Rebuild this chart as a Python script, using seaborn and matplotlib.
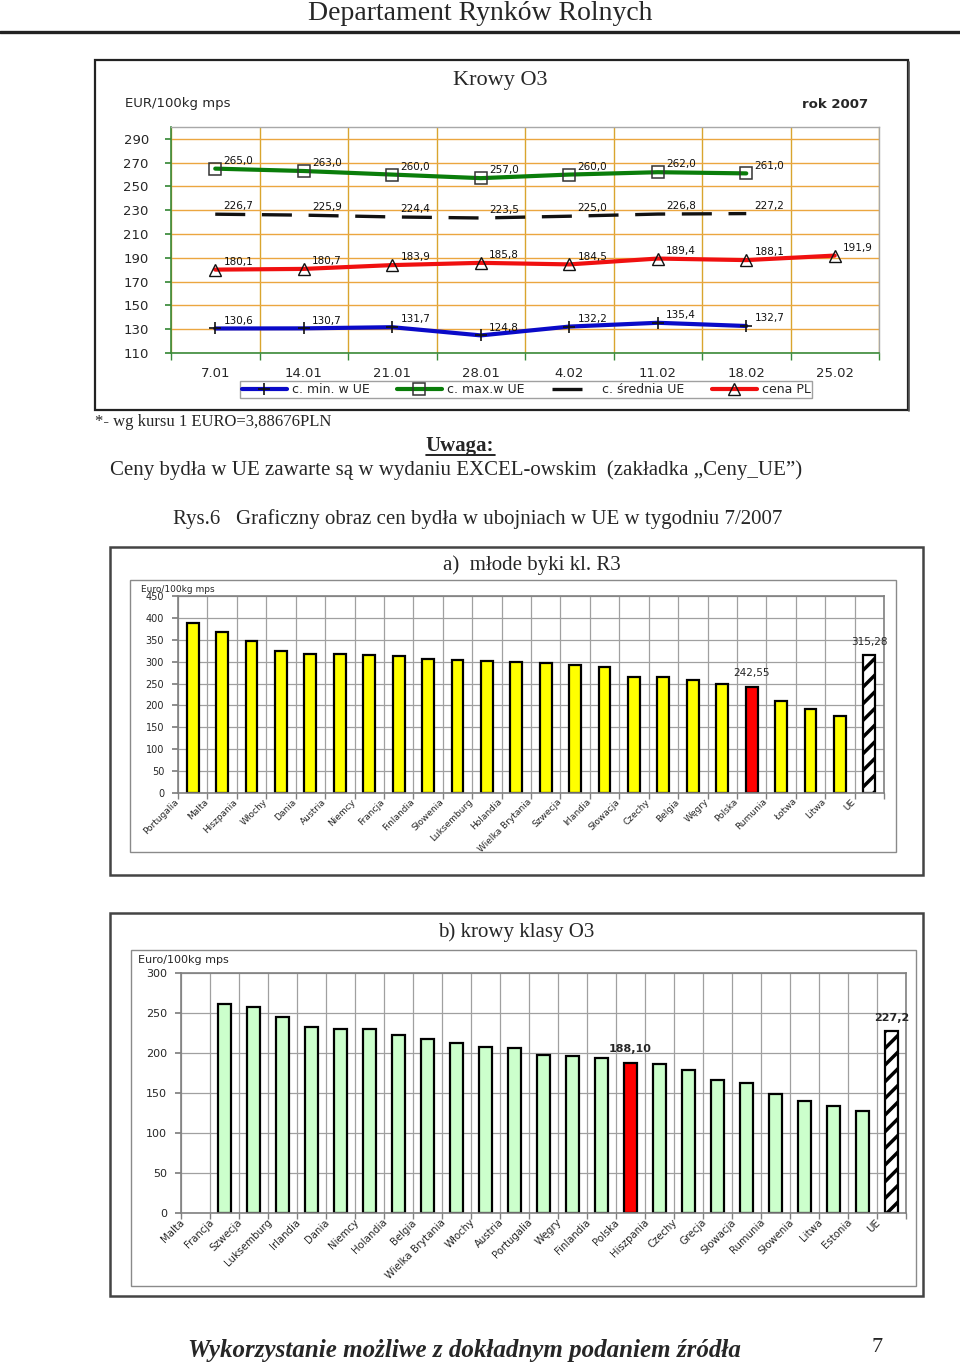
import numpy as np
import pandas as pd
import matplotlib
matplotlib.use("Agg")
import matplotlib.pyplot as plt
import matplotlib.transforms as mtransforms
from matplotlib.patches import Rectangle
from matplotlib.lines import Line2D
import seaborn as sns

# ------------------------------------------------------------------ data
dates = ["7.01", "14.01", "21.01", "28.01", "4.02", "11.02", "18.02", "25.02"]
c_min = [130.6, 130.7, 131.7, 124.8, 132.2, 135.4, 132.7, np.nan]
c_max = [265.0, 263.0, 260.0, 257.0, 260.0, 262.0, 261.0, np.nan]
c_avg = [226.7, 225.9, 224.4, 223.5, 225.0, 226.8, 227.2, np.nan]
c_pl = [180.1, 180.7, 183.9, 185.8, 184.5, 189.4, 188.1, 191.9]
line_yticks = [110, 130, 150, 170, 190, 210, 230, 250, 270, 290]

a_countries = ["Portugalia", "Malta", "Hiszpania", "Włochy", "Dania", "Austria",
               "Niemcy", "Francja", "Finlandia", "Słowenia", "Luksemburg",
               "Holandia", "Wielka Brytania", "Szwecja", "Irlandia", "Słowacja",
               "Czechy", "Belgia", "Węgry", "Polska", "Rumunia", "Łotwa",
               "Litwa", "UE"]
a_values = [389, 368, 347, 325, 318, 318, 315, 312, 307, 303, 302, 300,
            296, 292, 287, 265, 264, 259, 249, 242.55, 210, 191, 176, 315.28]
a_yticks = [0, 50, 100, 150, 200, 250, 300, 350, 400, 450]

b_countries = ["Malta", "Francja", "Szwecja", "Luksemburg", "Irlandia", "Dania",
               "Niemcy", "Holandia", "Belgia", "Wielka Brytania", "Włochy",
               "Austria", "Portugalia", "Węgry", "Finlandia", "Polska",
               "Hiszpania", "Czechy", "Grecja", "Słowacja", "Rumunia",
               "Słowenia", "Litwa", "Estonia", "UE"]
b_values = [np.nan, 261, 257.6, 245.6, 232.3, 229.8, 229.8, 222.3, 218, 212, 207,
            206.5, 197.4, 195.7, 194, 188.10, 186.6, 178.7, 166.6, 162, 148.3,
            140, 133.4, 128, 227.2]
b_yticks = [0, 50, 100, 150, 200, 250, 300]

# ------------------------------------------------------------------ setup
sns.set_theme(style="white")
plt.rcParams['font.family'] = ['DejaVu Sans']
plt.rcParams['hatch.linewidth'] = 2.5
plt.rcParams['hatch.color'] = 'black'
SERIF = 'Liberation Serif'

W, H = 960, 1365
fig = plt.figure(figsize=(W / 100, H / 100), dpi=100)
fig.patch.set_facecolor('white')


def add_ax(l, t, r, b):
    return fig.add_axes([l / W, 1 - b / H, (r - l) / W, (b - t) / H])


def ftext(x, y, s, **kw):
    return fig.text(x / W, 1 - y / H, s, **kw)


def frect(l, t, r, b, **kw):
    fig.add_artist(Rectangle((l / W, 1 - b / H), (r - l) / W, (b - t) / H,
                             transform=fig.transFigure, fill=False, **kw))


def fline(x0, y0, x1, y1, **kw):
    fig.add_artist(Line2D([x0 / W, x1 / W], [1 - y0 / H, 1 - y1 / H],
                          transform=fig.transFigure, **kw))


# ------------------------------------------------------------------ page header
ftext(480, 14, "Departament Rynków Rolnych", family=SERIF, fontsize=20,
      ha='center', va='center')
fline(0, 32, 960, 32, color='#222222', lw=2.4)

# ------------------------------------------------------------------ line chart
frect(95, 60, 908, 410, ec='#222222', lw=1.6)
fline(909, 62, 909, 411, color='#555555', lw=1.2)
ftext(500, 80, "Krowy O3", family=SERIF, fontsize=16, ha='center', va='center')
ftext(125, 104, "EUR/100kg mps", fontsize=9.5, ha='left', va='center')
ftext(868, 104, "rok 2007", fontsize=9.5, fontweight='bold', ha='right', va='center')

ax = add_ax(171, 127, 879, 353)
pos = np.arange(len(dates))
series = [
    ("c. min. w UE", c_min, dict(color='#0A0AC8', lw=3, marker='+', ms=9,
                                 mec='#111111', mew=1.2)),
    ("c. max.w UE", c_max, dict(color='#0A7D0A', lw=3, marker='s', ms=8,
                                mfc='none', mec='#333333', mew=1.1)),
    ("c. średnia UE", c_avg, dict(color='#111111', lw=2.4, dashes=(9, 5))),
    ("cena PL", c_pl, dict(color='#F01010', lw=3, marker='^', ms=9,
                           mfc='none', mec='#111111', mew=1.0)),
]
handles = []
for name, vals, style in series:
    df = pd.DataFrame({"pos": pos, "val": vals}).dropna()
    st = dict(style)
    dashes = st.pop('dashes', None)
    sns.lineplot(data=df, x="pos", y="val", ax=ax, estimator=None, sort=False,
                 **st)
    if dashes is not None:
        ax.lines[-1].set_dashes(dashes)
    for x, v in zip(df["pos"], df["val"]):
        ax.annotate(f"{v:.1f}".replace('.', ','), (x, v), xytext=(6, 2),
                    textcoords='offset points', ha='left', va='bottom',
                    fontsize=7.5, color='#111111')
    h = Line2D([], [], **{k: v for k, v in style.items() if k != 'dashes'})
    if dashes is not None:
        h.set_dashes(dashes)
    handles.append(h)

ax.set_xlim(-0.5, len(dates) - 0.5)
ax.set_ylim(110, 300)
ax.set_xticks(pos)
ax.set_xticklabels(dates)
ax.set_xticks(np.arange(-0.5, len(dates)), minor=True)
ax.set_yticks(line_yticks)
ax.set_xlabel("")
ax.set_ylabel("")
ax.grid(False)
ax.xaxis.grid(True, which='minor', color='#D9A52E', lw=1)
ax.yaxis.grid(True, which='major', color='#EBA640', lw=1)
ax.set_axisbelow(True)
ax.tick_params(axis='x', which='major', length=0, pad=10, labelsize=9.5)
ax.tick_params(axis='x', which='minor', length=5, color='#3A8A3A', direction='out',
               bottom=True)
ax.tick_params(axis='y', length=4, color='#3A8A3A', direction='out', left=True,
               pad=12, labelsize=9.5)
for s in ['left', 'bottom']:
    ax.spines[s].set_color('#3A8A3A')
    ax.spines[s].set_linewidth(1.2)
for s in ['top', 'right']:
    ax.spines[s].set_color('#A8A8A8')
    ax.spines[s].set_linewidth(1)

leg = fig.legend(handles, [s[0] for s in series], loc='center',
                 bbox_to_anchor=(526 / W, 1 - 389.5 / H), ncol=4, fontsize=9,
                 frameon=True, fancybox=False, edgecolor='#888888',
                 handlelength=3.6, columnspacing=2.2, borderpad=0.15,
                 handletextpad=0.4, borderaxespad=0)
leg.get_frame().set_linewidth(1)

# ------------------------------------------------------------------ notes
ftext(95, 422, "*- wg kursu 1 EURO=3,88676PLN", family=SERIF, fontsize=12,
      ha='left', va='center')
ftext(460, 446, "Uwaga:", family=SERIF, fontsize=15, fontweight='bold',
      ha='center', va='center')
fline(426, 455, 495, 455, color='black', lw=1.2)
ftext(110, 470, "Ceny bydła w UE zawarte są w wydaniu EXCEL-owskim  (zakładka „Ceny_UE”)",
      family=SERIF, fontsize=15, ha='left', va='center')
ftext(173, 519, "Rys.6   Graficzny obraz cen bydła w ubojniach w UE w tygodniu 7/2007",
      family=SERIF, fontsize=15, ha='left', va='center')


# ------------------------------------------------------------------ bar charts
def bar_chart(box, countries, values, base_color, yticks, ymax, xlab_size,
              ylab_size, xoff_px, width):
    l, t, r, b = box
    axb = add_ax(l, t, r, b)
    palette = {}
    for c in countries:
        palette[c] = base_color
    palette["Polska"] = '#FF0000'
    palette["UE"] = 'white'
    df = pd.DataFrame({"kraj": countries, "wartosc": values})
    sns.barplot(data=df, x="kraj", y="wartosc", hue="kraj", palette=palette,
                legend=False, width=width, edgecolor='black', linewidth=1.6,
                saturation=1, ax=axb)
    n = len(countries)
    for p in axb.patches:
        cx = p.get_x() + p.get_width() / 2
        if abs(cx - (n - 1)) < 0.01:
            p.set_hatch('//')
    axb.set_xlim(-0.5, n - 0.5)
    axb.set_ylim(0, ymax)
    axb.set_yticks(yticks)
    axb.set_xticks(np.arange(n))
    axb.set_xticklabels(countries, rotation=45, ha='right',
                        rotation_mode='default')
    axb.set_xticks(np.arange(-0.5, n), minor=True)
    axb.set_xlabel("")
    axb.set_ylabel("")
    axb.grid(False)
    axb.xaxis.grid(True, which='minor', color='#A0A0A0', lw=0.9)
    axb.yaxis.grid(True, which='major', color='#A0A0A0', lw=0.9)
    axb.set_axisbelow(True)
    axb.tick_params(axis='x', which='major', length=0, pad=3, labelsize=xlab_size)
    axb.tick_params(axis='x', which='minor', length=4, color='#808080',
                    direction='out', bottom=True)
    axb.tick_params(axis='y', length=4, color='#808080', direction='out',
                    left=True, pad=6, labelsize=ylab_size)
    for s in axb.spines.values():
        s.set_color('#808080')
        s.set_linewidth(1.2)
    off = mtransforms.ScaledTranslation(-xoff_px / 100, 0, fig.dpi_scale_trans)
    for lbl in axb.get_xticklabels():
        lbl.set_transform(lbl.get_transform() + off)
    return axb


# chart a
frect(110, 547, 923, 875, ec='#444444', lw=1.8)
frect(130, 580, 896, 852, ec='#8A8A8A', lw=1)
ftext(532, 565, "a)  młode byki kl. R3", family=SERIF, fontsize=15,
      ha='center', va='center')
axa = bar_chart((178, 596, 884, 793), a_countries, a_values, '#FFFF00',
                a_yticks, 450, 6.5, 7, 12, 0.4)
ftext(141, 589, "Euro/100kg mps", fontsize=6.5, ha='left', va='center')
ia = a_countries.index("Polska")
axa.annotate("242,55", (ia, a_values[ia]), xytext=(0, 6),
             textcoords='offset points', ha='center', va='bottom', fontsize=7.5)
axa.annotate("315,28", (len(a_countries) - 1, a_values[-1]), xytext=(0, 6),
             textcoords='offset points', ha='center', va='bottom', fontsize=7.5,
             annotation_clip=False)

# chart b
frect(110, 913, 923, 1296, ec='#444444', lw=1.8)
frect(131, 950, 916, 1286, ec='#8A8A8A', lw=1)
ftext(516, 932, "b) krowy klasy O3", family=SERIF, fontsize=15,
      ha='center', va='center')
axb = bar_chart((181, 973, 906, 1213), b_countries, b_values, '#CCFFCC',
                b_yticks, 300, 7.3, 8, 9, 0.42)
ftext(138, 960, "Euro/100kg mps", fontsize=8, ha='left', va='center')
ib = b_countries.index("Polska")
axb.annotate("188,10", (ib, b_values[ib]), xytext=(0, 6),
             textcoords='offset points', ha='center', va='bottom', fontsize=8,
             fontweight='bold')
axb.annotate("227,2", (len(b_countries) - 1, b_values[-1]), xytext=(0, 6),
             textcoords='offset points', ha='center', va='bottom', fontsize=8,
             fontweight='bold', annotation_clip=False)

# ------------------------------------------------------------------ footer
ftext(464, 1350, "Wykorzystanie możliwe z dokładnym podaniem źródła", family=SERIF,
      fontsize=18, fontweight='bold', style='italic', ha='center', va='center')
ftext(877, 1347, "7", family=SERIF, fontsize=16, ha='center', va='center')

fig.savefig("out.png", dpi=100, facecolor='white')
